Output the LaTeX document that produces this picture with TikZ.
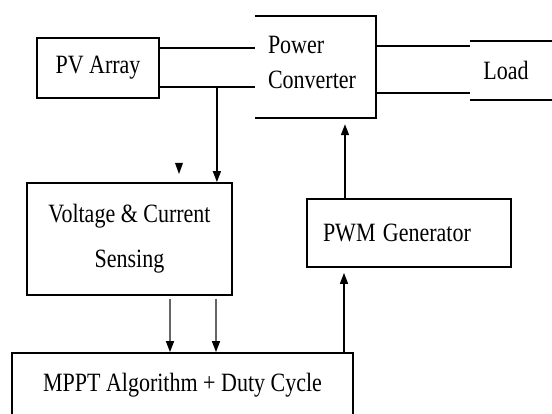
\documentclass[tikz,border=0pt]{standalone}
\usepackage{fontspec}
\setmainfont{Liberation Serif}
\usetikzlibrary{arrows.meta,positioning,calc}
\newcommand\tall[1]{\scalebox{1}[1.2]{#1}}

\begin{document}
\begin{tikzpicture}[x=1pt,y=-1pt,every node/.style={font=\fontsize{22}{26}\selectfont},box/.style={draw,line width=1.8pt,align=center,inner sep=0pt},open/.style={inner sep=0pt},wire/.style={line width=1.8pt},arr/.style={-{Triangle[length=11pt,width=8pt]},line width=1.6pt},greyarr/.style={-{Triangle[length=11pt,width=8pt,color=black]},draw=black!60}]
\useasboundingbox (0,0) rectangle (552,414);
\clip (0,0) rectangle (552,414);
\node[box,minimum width=122pt,minimum height=60pt] (pv) at (98,68) {\tall{PV Array}};
\node[open,minimum width=121pt,minimum height=102pt] (conv) at (315.5,67) {};
\node[open,align=left,text width=95pt] (convtxt) at ([yshift=5pt]conv.center) {\tall{Power}\\[9pt]\tall{Converter}};
\node[open,minimum width=72pt,minimum height=59pt] (load) at (506,70.5) {\tall{Load}};
\node[box,minimum width=205pt,minimum height=112pt] (vc) at (129.5,239) {\tall{Voltage \& Current}\\[19pt]\tall{Sensing}};
\node[box,minimum width=204pt,minimum height=68pt,align=left,text width=172pt] (pwm) at (409,233) {\tall{PWM Generator}};
\node[box,minimum width=341pt,minimum height=64pt] (mppt) at (182.5,385) {\tall{MPPT Algorithm + Duty Cycle}};
% converter and load are open on one side
\draw[wire] (conv.north west) -- (conv.north east) -- (conv.south east) -- (conv.south west);
\draw[wire] (load.north west) -- ++(90,0);
\draw[wire] (load.south west) -- ++(90,0);
% power wires
\coordinate (pvtop) at ([yshift=-11pt]pv.north east);
\coordinate (pvbot) at ([yshift=12pt]pv.south east);
\coordinate (ldtop) at ([yshift=-5pt]load.north west);
\coordinate (ldbot) at ([yshift=7pt]load.south west);
\draw[wire] (pvtop) -- (pvtop -| conv.west);
\draw[wire] (pvbot) -- (pvbot -| conv.west);
\draw[wire] (ldtop -| conv.east) -- (ldtop);
\draw[wire] (ldbot -| conv.east) -- (ldbot);
% sensing and control
\coordinate (tap) at ($(pvbot)+(57,0)$);
\draw[arr] (tap) -- (tap |- vc.north);
\coordinate (stray) at (179,174);
\fill (stray) -- ++(-4,-11) -- ++(8,0) -- cycle;
\foreach \x in {170,216} \draw[arr,greyarr,shorten <=3pt] (\x,0 |- vc.south) -- (\x,0 |- mppt.north);
\draw[arr,shorten >=5pt] (344,0 |- mppt.north) -- (344,0 |- pwm.south);
\draw[arr,shorten >=6pt] (345,0 |- pwm.north) -- (345,0 |- conv.south);
\end{tikzpicture}
\end{document}
